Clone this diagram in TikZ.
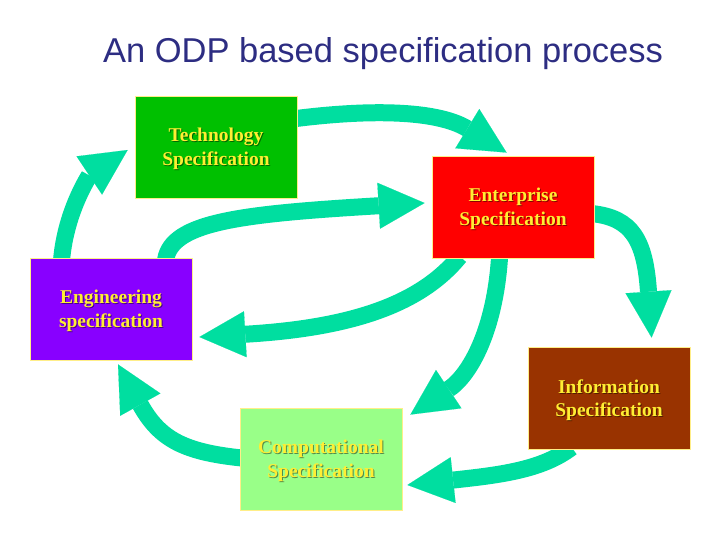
\documentclass[tikz,border=0pt]{standalone}
\usepackage{fontspec}
\newfontfamily\titlefont{Liberation Sans}
\newfontfamily\boxfont{Liberation Serif}
\usetikzlibrary{arrows.meta,calc,backgrounds}
\definecolor{arrowc}{RGB}{0,222,160}
\definecolor{techc}{RGB}{0,192,0}
\definecolor{entc}{RGB}{255,0,0}
\definecolor{engc}{RGB}{136,0,255}
\definecolor{infoc}{RGB}{153,51,0}
\definecolor{compc}{RGB}{153,255,136}
\definecolor{edgec}{RGB}{255,238,136}
\definecolor{txtc}{RGB}{255,238,51}
\definecolor{titlec}{RGB}{45,45,130}
\tikzset{
 specbox/.style={draw=edgec, line width=0.8pt, minimum width=162pt, minimum height=102pt, inner sep=0pt},
 spectext/.style={font=\boxfont\bfseries\fontsize{19.5}{23.5}\selectfont, align=center, text=txtc, inner sep=0pt},
 shadowtext/.style={spectext, text=black, text opacity=0.45},
 flow/.style={draw=arrowc, line width=17pt, -{Triangle[length=46pt,width=46pt,line width=0.1pt]}},
}
\newcommand\specnode[5]{%
 \node[specbox, fill=#4] (#1) at (#2,#3) {};
 \node[shadowtext] (#1s) at ([shift={(1pt,-3pt)}]#1.center) {#5};
 \node[spectext] (#1t) at ([shift={(0pt,-2pt)}]#1.center) {#5};
}
\begin{document}
\begin{tikzpicture}[x=1pt,y=-1pt]
\useasboundingbox (0,0) rectangle (720,540);
\node[font=\titlefont\fontsize{34.5}{40}\selectfont, text=titlec, anchor=base, inner sep=0pt] (title) at (383,63) {An ODP based specification process};
\specnode{tech}{216}{147}{techc}{Technology\\Specification}
\specnode{ent}{513}{207}{entc}{Enterprise\\Specification}
\specnode{eng}{111}{309}{engc}{Engineering\\specification}
\specnode{info}{609}{398}{infoc}{Information\\Specification}
\specnode{comp}{321}{459}{compc}{Computational\\Specification}
\begin{scope}[on background layer]
\fill[white] (0,0) rectangle (720,540);
\draw[flow] ($(tech.north east)+(-2,23)$) .. controls (380,108) and (440,112) .. ($(ent.north west)+(75,-3)$);
\draw[flow] ($(eng.north west)+(136,2)$) .. controls (172,222) and (240,214) .. ($(ent.west)+(-7,-4)$);
\draw[flow] ($(eng.north west)+(32,2)$) .. controls (66,210) and (90,175) .. ($(tech.west)+(-7,3)$);
\draw[flow] ($(ent.north east)+(-2,58)$) .. controls (632,218) and (645,240) .. ($(info.north west)+(124,-9)$);
\draw[flow] ($(ent.south west)+(28,-2)$) .. controls (420,305) and (350,328) .. ($(eng.east)+(7,28)$);
\draw[flow] ($(ent.south west)+(68,-2)$) .. controls (495,330) and (470,375) .. ($(comp.north east)+(8,7)$);
\draw[flow] ($(info.south west)+(44,-2)$) .. controls (542,470) and (500,475) .. ($(comp.east)+(5,26)$);
\draw[flow] ($(comp.west)+(2,-1)$) .. controls (185,452) and (160,440) .. ($(eng.south)+(7,4)$);
\end{scope}
\end{tikzpicture}
\end{document}
